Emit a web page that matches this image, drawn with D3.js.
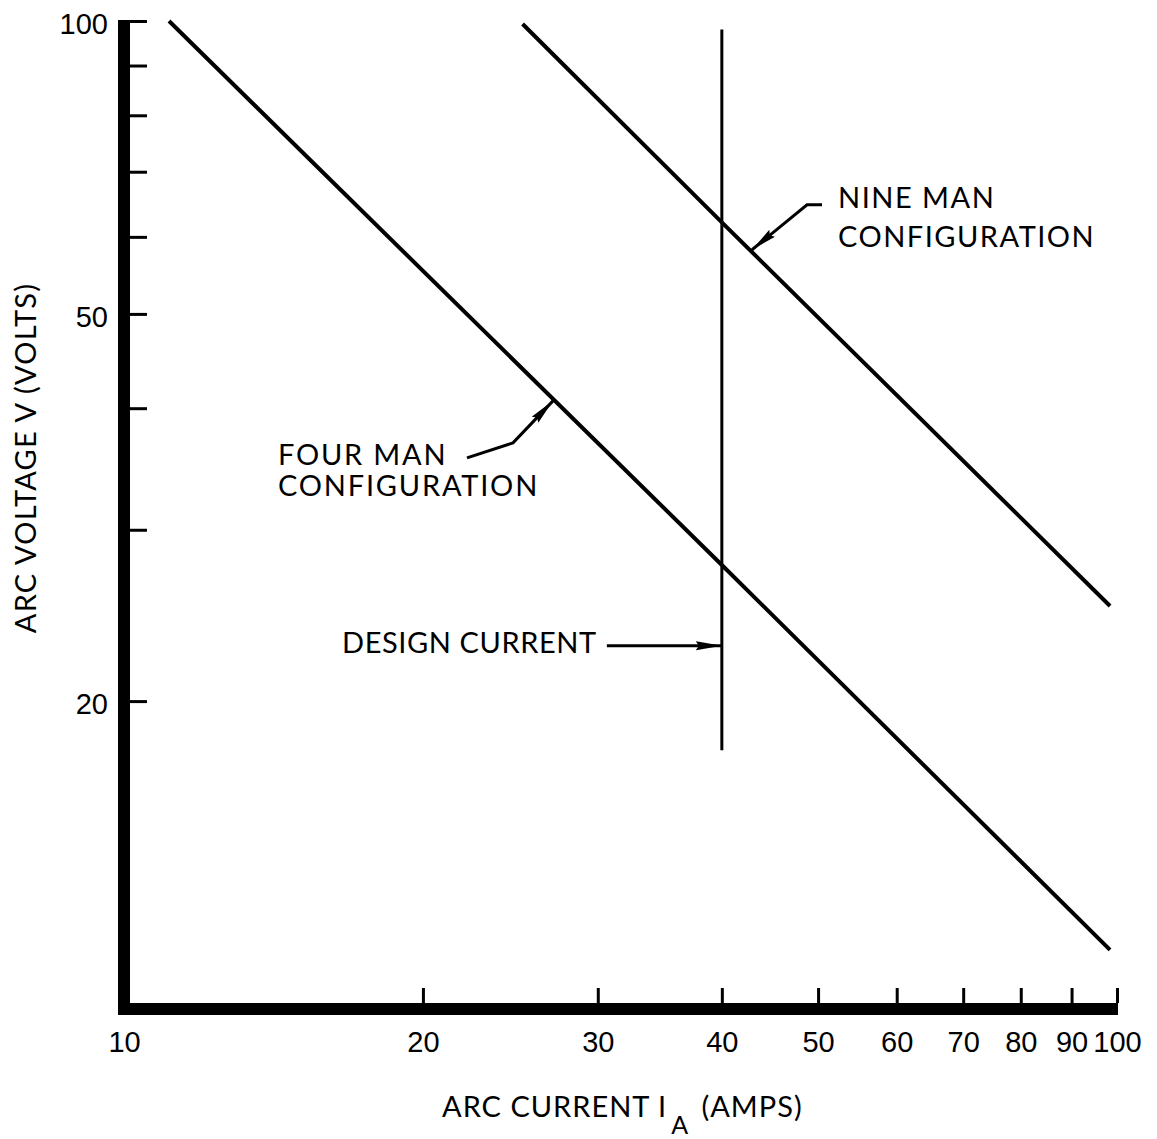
<!DOCTYPE html>
<html>
<head>
<meta charset="utf-8">
<script src="https://cdn.jsdelivr.net/npm/d3@7"></script>
<style>
  html, body { margin: 0; padding: 0; background: #fff; }
  svg { display: block; font-family: Lato, "Noto Sans", sans-serif; }
</style>
</head>
<body>
<script>
// Arc voltage vs arc current for the two electrode configurations (log-log)
const fourManCurrent = [11.1, 40, 98.4];
const fourManVoltage = [100, 27.6, 11.1];
const nineManCurrent = [25.2, 40, 98.4];
const nineManVoltage = [99.3, 62.1, 25.05];

// Design current marker: current (A) and the voltage span it covers
const designCurrent = 40;
const designVoltageSpan = [98, 17.8];

// Axis ticks
const xTickValues = [10, 20, 30, 40, 50, 60, 70, 80, 90, 100];
const xTickLabels = ["10", "20", "30", "40", "50", "60", "70", "80", "90", "100"];
const yTickValues = [20, 30, 40, 50, 60, 70, 80, 90, 100];
const yTickLabels = ["20", "", "", "50", "", "", "", "", "100"];

// Callout texts and where their arrows point (current, voltage)
const nineManLabel = ["NINE MAN", "CONFIGURATION"];
const nineManArrowTip = [42.9, 58.2];
const fourManLabel = ["FOUR MAN", "CONFIGURATION"];
const fourManArrowTip = [27.04, 40.7];
const designLabel = "DESIGN CURRENT";
const designArrowTip = [40, 22.8];

const W = 1157, H = 1139;
const svg = d3.select("body").append("svg").attr("width", W).attr("height", H);

const x = d3.scaleLog().domain([10, 100]).range([124, 1117]);
const y = d3.scaleLog().domain([10, 100]).range([994, 21]);

const ink = "#000";
const bar = 12;                 // thickness of the heavy axis rules
const xAxisY = y(10) + 9;       // top edge of the bottom rule

// arrowhead
svg.append("defs").append("marker")
  .attr("id", "head")
  .attr("viewBox", "0 0 26 10")
  .attr("refX", 26).attr("refY", 5)
  .attr("markerWidth", 26).attr("markerHeight", 10)
  .attr("markerUnits", "userSpaceOnUse")
  .attr("orient", "auto")
  .append("path").attr("d", "M0,0.5 L26,5 L0,9.5 L3,5 Z").attr("fill", ink);

// Y axis ticks (drawn inward) and labels
const yTickLabel = d => yTickLabels[yTickValues.indexOf(d)];
const yAxis = svg.append("g")
  .attr("transform", `translate(${x(10) + bar / 2},0)`)
  .call(d3.axisLeft(y).tickValues(yTickValues).tickSize(-17).tickPadding(22).tickFormat(yTickLabel));
yAxis.select(".domain").remove();
yAxis.selectAll(".tick line").attr("stroke", ink).attr("stroke-width", 3);
yAxis.selectAll(".tick text").attr("fill", ink).attr("font-size", 29).attr("dy", "0.42em");

// X axis ticks (drawn inward) and labels
const xTickLabel = d => xTickLabels[xTickValues.indexOf(d)];
const xAxis = svg.append("g")
  .attr("transform", `translate(0,${xAxisY})`)
  .call(d3.axisBottom(x).tickValues(xTickValues).tickSize(-15).tickPadding(28).tickFormat(xTickLabel));
xAxis.select(".domain").remove();
xAxis.selectAll(".tick line").attr("stroke", ink).attr("stroke-width", 3);
xAxis.selectAll(".tick text").attr("fill", ink).attr("font-size", 29);

// Heavy axis rules
svg.append("rect")
  .attr("x", x(10) - bar / 2).attr("y", y(100) - 1)
  .attr("width", bar).attr("height", xAxisY + bar - (y(100) - 1))
  .attr("fill", ink);
svg.append("rect")
  .attr("x", x(10) - bar / 2).attr("y", xAxisY)
  .attr("width", x(100) + 1 - (x(10) - bar / 2)).attr("height", bar)
  .attr("fill", ink);

// Characteristic lines
const line = d3.line().x(d => x(d[0])).y(d => y(d[1]));
const series = [
  d3.zip(fourManCurrent, fourManVoltage),
  d3.zip(nineManCurrent, nineManVoltage)
];
svg.selectAll("path.curve").data(series).join("path")
  .attr("class", "curve")
  .attr("d", line)
  .attr("fill", "none").attr("stroke", ink).attr("stroke-width", 4);

// Design current line
svg.append("line")
  .attr("x1", x(designCurrent)).attr("x2", x(designCurrent))
  .attr("y1", y(designVoltageSpan[0])).attr("y2", y(designVoltageSpan[1]))
  .attr("stroke", ink).attr("stroke-width", 3);

// Callouts
function arrow(tip, legs) {
  const tx = x(tip[0]), ty = y(tip[1]);
  const pts = legs.map(([dx, dy]) => [tx + dx, ty + dy]).concat([[tx, ty]]);
  svg.append("path")
    .attr("d", d3.line()(pts))
    .attr("fill", "none").attr("stroke", ink).attr("stroke-width", 3)
    .attr("marker-end", "url(#head)");
  return [tx, ty];
}
function label(lines, x0, y0, gap, anchor, spacing) {
  const t = svg.append("text").attr("font-size", 29).attr("fill", ink)
    .attr("text-anchor", anchor).attr("letter-spacing", spacing);
  lines.forEach((s, i) => t.append("tspan").attr("x", x0).attr("y", y0 + i * gap).text(s));
}

let [tx, ty] = arrow(nineManArrowTip, [[70, -45], [55, -45]]);
label(nineManLabel, tx + 86, ty - 42, 39, "start", 1.5);

[tx, ty] = arrow(fourManArrowTip, [[-86, 57], [-40, 42]]);
label(fourManLabel, tx - 275, ty + 64, 31, "start", 1.8);

[tx, ty] = arrow(designArrowTip, [[-115, 0]]);
label([designLabel], tx - 125, ty + 7, 0, "end", 0.6);

// Axis titles
const xTitle = svg.append("text").attr("font-size", 29).attr("fill", ink)
  .attr("letter-spacing", 1).attr("x", 442).attr("y", 1117);
xTitle.append("tspan").text("ARC CURRENT I");
xTitle.append("tspan").attr("font-size", 25).attr("dx", 4).attr("dy", 17).text("A");
xTitle.append("tspan").attr("dx", 4).attr("dy", -17).text(" (AMPS)");

svg.append("text").attr("font-size", 29).attr("fill", ink)
  .attr("letter-spacing", 1.2)
  .attr("text-anchor", "middle")
  .attr("transform", "translate(36,458) rotate(-90)")
  .text("ARC VOLTAGE V  (VOLTS)");
</script>
</body>
</html>
